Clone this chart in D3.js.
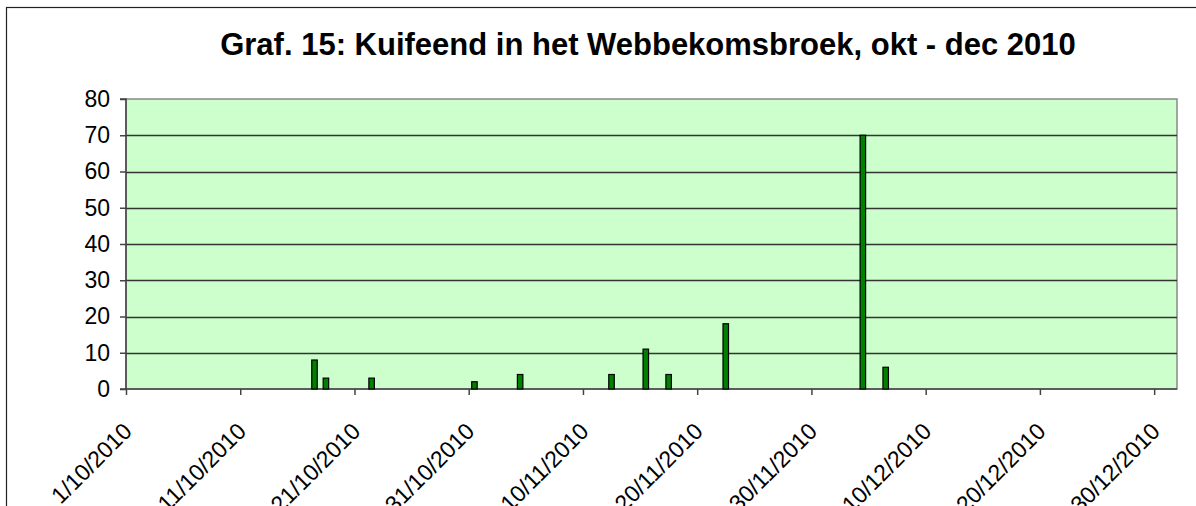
<!DOCTYPE html>
<html>
<head>
<meta charset="utf-8">
<script src="https://cdn.jsdelivr.net/npm/d3@7"></script>
<style>
  html, body { margin: 0; padding: 0; background: #fff; }
  svg { display: block; font-family: "Liberation Sans", Arial, sans-serif; }
</style>
</head>
<body>
<svg id="chart" width="1196" height="506"></svg>
<script>
'use strict';

// observation dates and counts (Kuifeend)
const obsDates = ["2010-10-17", "2010-10-18", "2010-10-22", "2010-10-31", "2010-11-04",
    "2010-11-12", "2010-11-15", "2010-11-17", "2010-11-22", "2010-12-04", "2010-12-06"];
const counts = [8, 3, 3, 2, 4, 4, 11, 4, 18, 70, 6];

const tickDates = ["2010-10-01", "2010-10-11", "2010-10-21", "2010-10-31", "2010-11-10",
    "2010-11-20", "2010-11-30", "2010-12-10", "2010-12-20", "2010-12-30"];
const yTicks = [0, 10, 20, 30, 40, 50, 60, 70, 80];

const titleText = "Graf. 15: Kuifeend in het Webbekomsbroek, okt - dec 2010";

let svg = d3.select("#chart");
let parse = d3.utcParse("%Y-%m-%d");
let fmt = d3.utcFormat("%-d/%-m/%Y");

let plot = { left: 126, top: 99, right: 1177, bottom: 389 };

let x = d3.scaleUtc()
    .domain([parse("2010-10-01"), parse("2011-01-01")])
    .range([plot.left, plot.right]);
let y = d3.scaleLinear()
    .domain([0, 80])
    .range([plot.bottom, plot.top]);

// outer chart frame (cropped on the right and bottom)
svg.append("rect")
    .attr("x", 6.5).attr("y", 7.5)
    .attr("width", 1300).attr("height", 600)
    .attr("fill", "#fff")
    .attr("stroke", "#222")
    .attr("stroke-width", 1.2);

svg.append("text")
    .attr("x", 648).attr("y", 55)
    .attr("text-anchor", "middle")
    .attr("font-size", 31)
    .attr("font-weight", "bold")
    .attr("fill", "#000")
    .text(titleText);

// plot background
svg.append("rect")
    .attr("x", plot.left).attr("y", plot.top)
    .attr("width", plot.right - plot.left)
    .attr("height", plot.bottom - plot.top)
    .attr("fill", "#ccffcc")
    .attr("stroke", "#888")
    .attr("stroke-width", 1.5);

// horizontal gridlines
svg.append("g")
    .selectAll("line")
    .data(yTicks.filter(d => d > 0 && d < 80))
    .enter().append("line")
    .attr("x1", plot.left).attr("x2", plot.right)
    .attr("y1", d => Math.round(y(d)) + 0.5)
    .attr("y2", d => Math.round(y(d)) + 0.5)
    .attr("stroke", "#333")
    .attr("stroke-width", 1.3);

// y axis
let yAxis = d3.axisLeft(y)
    .tickValues(yTicks)
    .tickSize(6)
    .tickPadding(10);
let yg = svg.append("g")
    .attr("transform", "translate(" + plot.left + ",0)")
    .call(yAxis);
yg.selectAll("text")
    .attr("font-size", 23)
    .attr("font-family", "'Liberation Sans', Arial, sans-serif")
    .attr("fill", "#000");
yg.selectAll("line, path").attr("stroke", "#444").attr("stroke-width", 1.5);
yg.select(".domain").attr("d", "M-6," + plot.top + "H0V" + plot.bottom + "H-6");

// x axis
let xAxis = d3.axisBottom(x)
    .tickValues(tickDates.map(parse))
    .tickSize(6)
    .tickFormat(fmt);
let xg = svg.append("g")
    .attr("transform", "translate(0," + plot.bottom + ")")
    .call(xAxis);
xg.selectAll("line, path").attr("stroke", "#444").attr("stroke-width", 1.5);
xg.select(".domain").attr("d", "M" + plot.left + ",0H" + plot.right);
xg.selectAll("text")
    .attr("font-size", 23)
    .attr("font-family", "'Liberation Sans', Arial, sans-serif")
    .attr("fill", "#000")
    .attr("text-anchor", "end")
    .attr("dy", "0.35em")
    .attr("y", 0)
    .attr("transform", "translate(1,38) rotate(-45)");

// bars, centred in their day slot
let barW = 5.5;
let halfDay = 12 * 3600 * 1000;
svg.append("g")
    .selectAll("rect")
    .data(counts)
    .enter().append("rect")
    .attr("x", (d, i) => x(new Date(parse(obsDates[i]).getTime() + halfDay)) - barW / 2)
    .attr("y", d => y(d))
    .attr("width", barW)
    .attr("height", d => y(0) - y(d))
    .attr("fill", "#008000")
    .attr("stroke", "#000")
    .attr("stroke-width", 1.2);
</script>
</body>
</html>
